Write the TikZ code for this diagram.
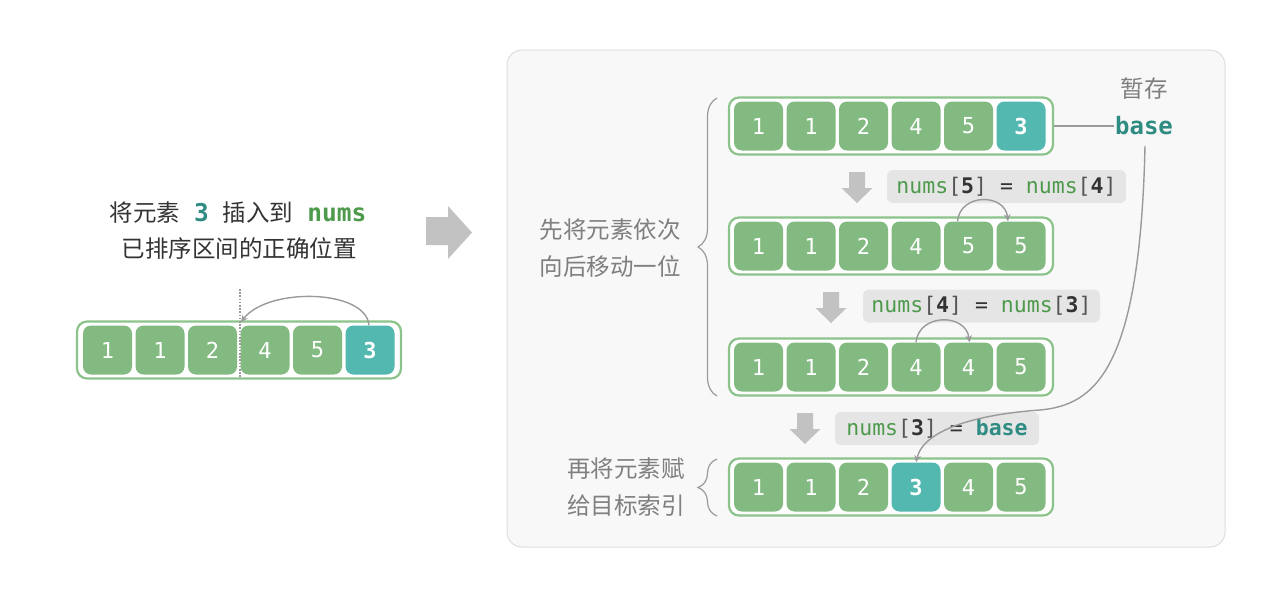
\documentclass[tikz,border=0pt]{standalone}
\usepackage{fontspec}
\setmainfont{Noto Sans CJK SC}
\newfontfamily\cjk{Noto Sans CJK SC}
\setmonofont{DejaVu Sans Mono}
\usetikzlibrary{decorations.pathreplacing,arrows.meta}
\definecolor{cellg}{HTML}{83BA81}
\definecolor{cellt}{HTML}{52B8B0}
\definecolor{arrg}{HTML}{8CC38B}
\definecolor{codeg}{HTML}{4E9A4C}
\definecolor{tealtxt}{HTML}{2F8C83}
\definecolor{darktxt}{HTML}{333333}
\definecolor{brk}{HTML}{555555}
\definecolor{labgray}{HTML}{7F7F7F}
\definecolor{linegray}{HTML}{9A9A9A}
\definecolor{arrowgray}{HTML}{C2C2C2}
\definecolor{boxg}{HTML}{E5E5E5}
\definecolor{panelfill}{HTML}{F8F8F8}
\definecolor{panelborder}{HTML}{DDDDDD}
\newcommand\wnb{\bfseries}
\newcommand\wnn{}
\begin{document}
\begin{tikzpicture}[x=1pt,y=-1pt,
  cellbox/.style={rounded corners=8pt, minimum width=49pt, minimum height=49pt, inner sep=0pt,
    text=white, font=\fontsize{22}{22}\selectfont\ttfamily},
  frame/.style={rounded corners=10pt, draw=arrg, line width=2.2pt, fill=white,
    minimum width=324pt, minimum height=57pt, inner sep=0pt},
  codebox/.style={rounded corners=6pt, fill=boxg, inner sep=0pt, minimum height=33pt,
    text=darktxt, font=\fontsize{21.5}{21.5}\selectfont\ttfamily},
  conn/.style={draw=linegray, line width=1.4pt, -{Stealth[length=7pt,width=6.5pt]}},
  plainline/.style={draw=linegray, line width=1.3pt},
  bracestyle/.style={draw=linegray, line width=1.2pt, decorate, decoration={brace, amplitude=19pt}},
  graylab/.style={text=labgray, font=\fontsize{23.5}{23.5}\selectfont\cjk, inner sep=0pt},
  panel/.style={draw=panelborder, line width=1pt, fill=panelfill, rounded corners=15pt,
    minimum width=718pt, minimum height=497pt, inner sep=0pt}
]
\useasboundingbox (0,0) rectangle (1280,597);

% ---------- left part ----------
\node[text=darktxt, font=\fontsize{23.5}{23.5}\selectfont\cjk, inner sep=0pt] (t1) at (238,213)
  {将元素\hspace{14pt}{\fontsize{24.5}{24.5}\selectfont\ttfamily\bfseries\color{tealtxt}3}\hspace{14pt}插入到\hspace{14pt}{\fontsize{24.5}{24.5}\selectfont\ttfamily\bfseries\color{codeg}nums}};
\node[text=darktxt, font=\fontsize{23.5}{23.5}\selectfont\cjk, inner sep=0pt] (t2) at (239,249)
  {已排序区间的正确位置};

\node[frame] (fl) at (239,350) {};
\foreach \v/\c/\w [count=\i] in {1/cellg/wnn,1/cellg/wnn,2/cellg/wnn,4/cellg/wnn,5/cellg/wnn,3/cellt/wnb}
  \node[cellbox, fill=\c] (l\i) at ({107.5+52.5*(\i-1)},350) {\csname\w\endcsname\v};

\coordinate (dtop) at (240,289);
\coordinate (dbot) at (240,378);
\draw[draw=linegray, line width=1.3pt, dash pattern=on 1.6pt off 1.6pt] (dtop) -- (dbot);
\coordinate (ltgt) at (241,322);
\draw[conn] ([xshift=-1pt]l6.north) .. controls (366,289) and (268,287) .. (ltgt);

% big right arrow
\fill[arrowgray] (426,217) -- (448,217) -- (448,206) -- (472,232.5) -- (448,259) -- (448,245) -- (426,245) -- cycle;

% ---------- right panel ----------
\node[panel] (panel) at (866,298.5) {};

\node[frame] (f1) at (891,126) {};
\node[frame] (f2) at (891,246) {};
\node[frame] (f3) at (891,367) {};
\node[frame] (f4) at (891,487) {};

\foreach \v/\c/\w [count=\i] in {1/cellg/wnn,1/cellg/wnn,2/cellg/wnn,4/cellg/wnn,5/cellg/wnn,3/cellt/wnb}
  \node[cellbox, fill=\c] (ra\i) at ({758.5+52.5*(\i-1)},126) {\csname\w\endcsname\v};
\foreach \v/\c/\w [count=\i] in {1/cellg/wnn,1/cellg/wnn,2/cellg/wnn,4/cellg/wnn,5/cellg/wnn,5/cellg/wnn}
  \node[cellbox, fill=\c] (rb\i) at ({758.5+52.5*(\i-1)},246) {\csname\w\endcsname\v};
\foreach \v/\c/\w [count=\i] in {1/cellg/wnn,1/cellg/wnn,2/cellg/wnn,4/cellg/wnn,4/cellg/wnn,5/cellg/wnn}
  \node[cellbox, fill=\c] (rc\i) at ({758.5+52.5*(\i-1)},367) {\csname\w\endcsname\v};
\foreach \v/\c/\w [count=\i] in {1/cellg/wnn,1/cellg/wnn,2/cellg/wnn,3/cellt/wnb,4/cellg/wnn,5/cellg/wnn}
  \node[cellbox, fill=\c] (rd\i) at ({758.5+52.5*(\i-1)},487) {\csname\w\endcsname\v};

% down arrows
\foreach \cx/\ty in {857/172, 831/292, 805/413}
  \fill[arrowgray] ({\cx-8},\ty) -- ({\cx+8},\ty) -- ({\cx+8},\ty+16) -- ({\cx+15.5},\ty+16)
     -- (\cx,\ty+31) -- ({\cx-15.5},\ty+16) -- ({\cx-8},\ty+16) -- cycle;

% code boxes
\node[codebox, minimum width=239pt] (c1) at (1006.5,186.5)
  {{\color{codeg}nums}{\color{brk}[}\textbf{5}{\color{brk}]} = {\color{codeg}nums}{\color{brk}[}\textbf{4}{\color{brk}]}};
\node[codebox, minimum width=237pt] (c2) at (981.5,306)
  {{\color{codeg}nums}{\color{brk}[}\textbf{4}{\color{brk}]} = {\color{codeg}nums}{\color{brk}[}\textbf{3}{\color{brk}]}};
\node[codebox, minimum width=204pt] (c3) at (937,428.5)
  {{\color{codeg}nums}{\color{brk}[}\textbf{3}{\color{brk}]} = {\color{tealtxt}\bfseries base}};

% shift arcs
\draw[conn] ([xshift=-11pt]rb5.north) .. controls (960,193) and (1005,193) .. ([xshift=-13pt]rb6.north);
\draw[conn] (rc4.north) .. controls (919,313) and (966,313) .. ([xshift=1pt]rc5.north);

% temp storage
\node[graylab] (tmp) at (1144,89) {暂存};
\node[text=tealtxt, font=\fontsize{24}{24}\selectfont\ttfamily\bfseries, inner sep=0pt] (base) at (1144,126) {base};
\draw[plainline] (f1.east) -- ([xshift=-1pt]base.west);
\coordinate (bstart) at (1145,146);
\coordinate (bmid) at (1040,410);
\draw[conn] (bstart) .. controls (1140,370) and (1095,405) .. (bmid)
  .. controls (982,414) and (924,428) .. (rd4.north);

% braces and labels
\coordinate (b1bot) at (717,396);
\coordinate (b1top) at (717,98);
\draw[bracestyle] (b1bot) -- (b1top);
\coordinate (b2bot) at (717,516);
\coordinate (b2top) at (717,459);
\draw[bracestyle] (b2bot) -- (b2top);

\node[graylab, anchor=east] (s1) at (681,230) {先将元素依次};
\node[graylab, anchor=east] (s2) at (681,267) {向后移动一位};
\node[graylab, anchor=east] (s3) at (685,469) {再将元素赋};
\node[graylab, anchor=east] (s4) at (685,506) {给目标索引};
\end{tikzpicture}
\end{document}
